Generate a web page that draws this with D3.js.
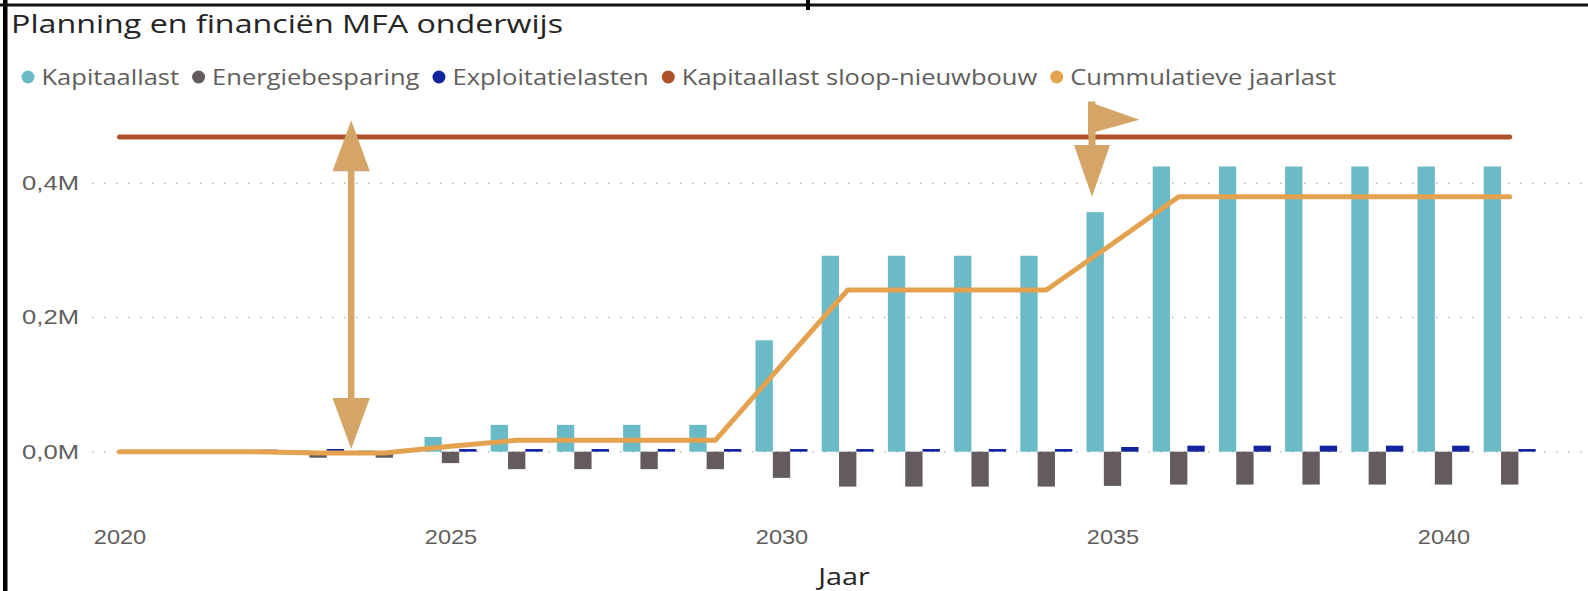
<!DOCTYPE html>
<html lang="nl">
<head>
<meta charset="utf-8">
<title>Planning en financiën MFA onderwijs</title>
<style>
  body { margin: 0; background: #ffffff; }
  svg { display: block; font-family: "Segoe UI", "Open Sans", sans-serif; }
  .tick text { fill: #605E5C; }
</style>
<script src="https://d3js.org/d3.v7.min.js"></script>
</head>
<body>
<svg id="chart" width="1588" height="591"></svg>
<script>
// bedragen in euro, per jaar
var jaren = [2020, 2021, 2022, 2023, 2024, 2025, 2026, 2027, 2028, 2029, 2030,
             2031, 2032, 2033, 2034, 2035, 2036, 2037, 2038, 2039, 2040, 2041];
var kapitaallast = [0, 0, 1000, 2000, 2000, 22000, 40000, 40000, 40000, 40000, 166000,
                    292000, 292000, 292000, 292000, 357000, 425000, 425000, 425000, 425000, 425000, 425000];
var energiebesparing = [0, 0, -3000, -9000, -9000, -17000, -26000, -26000, -26000, -26000, -39000,
                        -52000, -52000, -52000, -52000, -51000, -49000, -49000, -49000, -49000, -49000, -49000];
var exploitatielasten = [0, 0, 3000, 4000, 2000, 4000, 4000, 4000, 4000, 4000, 4000,
                         4000, 4000, 4000, 4000, 7000, 9000, 9000, 9000, 9000, 9000, 4000];
var sloopNieuwbouw = [469000, 469000, 469000, 469000, 469000, 469000, 469000, 469000, 469000, 469000, 469000,
                      469000, 469000, 469000, 469000, 469000, 469000, 469000, 469000, 469000, 469000, 469000];
var cumulatief = [0, 0, 0, -2000, -2000, 8000, 17000, 17000, 17000, 17000, 129000,
                  241000, 241000, 241000, 241000, 310000, 380000, 380000, 380000, 380000, 380000, 380000];

var yTicks = [0, 200000, 400000];
var xTicks = [2020, 2025, 2030, 2035, 2040];
var legendLabels = ["Kapitaallast", "Energiebesparing", "Exploitatielasten",
                    "Kapitaallast sloop-nieuwbouw", "Cummulatieve jaarlast"];
var kleuren = ["#6ABBC7", "#635B60", "#12239E", "#AE5129", "#E4A24F"];
var pijlKleur = "#D5A567";

// annotatie-pijlen (jaar, bedrag)
var pijlen = [
  { jaar: 2023.5, van: 4000, tot: 494000, soort: "dubbel" },
  { jaar: 2034.69, van: 522000, tot: 380000, soort: "vlag" }
];

var svg = d3.select("#chart");

var x = d3.scaleLinear().domain([2020, 2040]).range([119.5, 1443.5]);
var sub = d3.scaleBand().domain([0, 1, 2]).range([-26, 26]);
var y = d3.scaleLinear().domain([0, 400000]).range([451.7, 183.3]);

// kader
svg.append("rect").attr("x", 3).attr("y", 0).attr("width", 4.5).attr("height", 591).attr("fill", "#000");
svg.append("rect").attr("x", 0).attr("y", 3.5).attr("width", 1588).attr("height", 3).attr("fill", "#111");
svg.append("rect").attr("x", 806).attr("y", 0).attr("width", 4).attr("height", 10).attr("fill", "#000");

// titel (de schermafdruk is horizontaal wat uitgerekt, dus tekst ook)
svg.append("text")
  .attr("transform", "translate(11,33) scale(1.24,1)")
  .attr("font-size", 26)
  .attr("font-weight", 500)
  .attr("fill", "#252423")
  .text("Planning en financiën MFA onderwijs");

// legenda
var lx = 28, rek = 1.16;
legendLabels.forEach(function (lab, i) {
  svg.append("circle").attr("cx", lx).attr("cy", 77).attr("r", 6.5).attr("fill", kleuren[i]);
  var t = svg.append("text")
    .attr("transform", "translate(" + (lx + 13.5) + ",85) scale(" + rek + ",1)")
    .attr("font-size", 22)
    .attr("fill", "#605E5C")
    .text(lab);
  lx = lx + 13.5 + t.node().getComputedTextLength() * rek + 19.5;
});

// rasterlijnen
svg.append("g").selectAll("line")
  .data(yTicks)
  .join("line")
  .attr("x1", 92).attr("x2", 1582)
  .attr("y1", d => y(d)).attr("y2", d => y(d))
  .attr("stroke", "#BDBBB9")
  .attr("stroke-width", 1.5)
  .attr("stroke-dasharray", "1.5 10.5");

// assen
var fmt = d => (d / 1e6).toFixed(1).replace(".", ",") + "M";
var ya = svg.append("g").attr("transform", "translate(79,0)")
  .call(d3.axisLeft(y).tickValues(yTicks).tickFormat(fmt).tickSize(0).tickPadding(0));
ya.select(".domain").remove();
ya.selectAll("text").attr("font-size", 20).attr("transform", "scale(1.28,1)");

var xa = svg.append("g").attr("transform", "translate(0,530)")
  .call(d3.axisBottom(x).tickValues(xTicks).tickFormat(d3.format("d")).tickSize(0).tickPadding(0));
xa.select(".domain").remove();
xa.selectAll("text").attr("font-size", 20).attr("transform", "scale(1.18,1)");

svg.append("text")
  .attr("transform", "translate(844,585) scale(1.2,1)")
  .attr("text-anchor", "middle")
  .attr("font-size", 24)
  .attr("fill", "#252423")
  .text("Jaar");

// staven
[kapitaallast, energiebesparing, exploitatielasten].forEach(function (reeks, s) {
  svg.append("g").selectAll("rect")
    .data(reeks)
    .join("rect")
    .attr("x", (d, i) => x(jaren[i]) + sub(s))
    .attr("width", sub.bandwidth())
    .attr("y", d => y(Math.max(0, d)))
    .attr("height", d => Math.abs(y(d) - y(0)))
    .attr("fill", kleuren[s]);
});

// lijnen
var lijn = d3.line().x((d, i) => x(jaren[i])).y(d => y(d));
[[sloopNieuwbouw, 3], [cumulatief, 4]].forEach(function (r) {
  svg.append("path")
    .attr("d", lijn(r[0]))
    .attr("fill", "none")
    .attr("stroke", kleuren[r[1]])
    .attr("stroke-width", 5)
    .attr("stroke-linecap", "round")
    .attr("stroke-linejoin", "round");
});

// pijlen
pijlen.forEach(function (p) {
  var px = x(p.jaar), y1 = y(p.van), y2 = y(p.tot);
  var g = svg.append("g").attr("fill", pijlKleur);
  if (p.soort === "dubbel") {
    var top = Math.min(y1, y2), bot = Math.max(y1, y2), kop = 51, hw = 18.7;
    g.append("rect").attr("x", px - 3.3).attr("y", top + kop - 1).attr("width", 6.6).attr("height", bot - top - 2 * kop + 2);
    g.append("polygon").attr("points", [[px, top], [px - hw, top + kop], [px + hw, top + kop]].join(" "));
    g.append("polygon").attr("points", [[px, bot], [px - hw, bot - kop], [px + hw, bot - kop]].join(" "));
  } else {
    var kop2 = 51.7, hw2 = 18;
    g.append("polygon").attr("points", [[px - 4, y1], [px + 47.5, y1 + 18.3], [px - 4, y1 + 32.5]].join(" "));
    g.append("rect").attr("x", px - 3.5).attr("y", y1).attr("width", 7).attr("height", y2 - kop2 - y1 + 1);
    g.append("polygon").attr("points", [[px, y2], [px - hw2, y2 - kop2], [px + hw2, y2 - kop2]].join(" "));
  }
});
</script>
</body>
</html>
